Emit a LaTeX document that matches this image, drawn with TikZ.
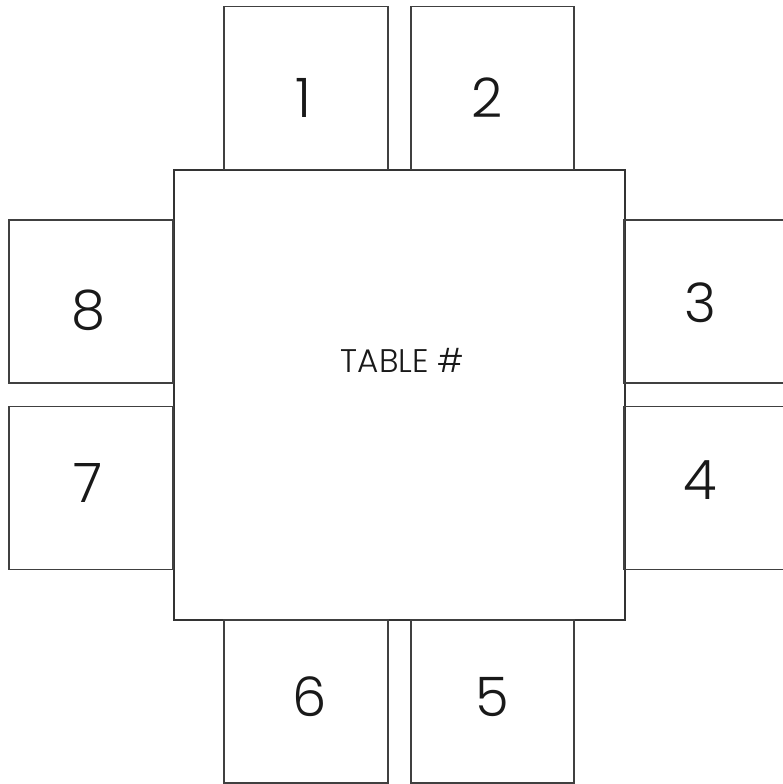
\documentclass[tikz,border=0pt]{standalone}
\usepackage{fontspec}
\setmainfont{Poppins Light}
\begin{document}
\begin{tikzpicture}[line width=0.5pt,
          seat/.style={draw=black!75, minimum width=1.634cm, minimum height=1.63cm, inner sep=0pt, outer sep=0pt},
          tbl/.style={draw=black!80, minimum width=4.51cm, minimum height=4.5cm, inner sep=0pt, outer sep=0pt},
          num/.style={text=black!90, font=\fontsize{15.5}{18}\selectfont, inner sep=0pt},
          tname/.style={text=black!90, font=\fontsize{9.3}{11}\selectfont, inner sep=0pt}]
        \useasboundingbox (0,0) rectangle (7.83,-7.84);
        \node[tbl] (table) at (3.993,-3.95) {};
        \node[seat] (s1) at (3.06,-0.88) {};
        \node[seat] (s2) at (4.925,-0.88) {};
        \node[seat] (s3) at (7.06,-3.015) {};
        \node[seat] (s4) at (7.06,-4.88) {};
        \node[seat] (s5) at (4.925,-7.013) {};
        \node[seat] (s6) at (3.06,-7.013) {};
        \node[seat] (s7) at (0.91,-4.88) {};
        \node[seat] (s8) at (0.91,-3.015) {};
        \node[tname] (tlabel) at (4.025,-3.6) {TABLE \#};
        \node[num] (n1) at (3.03,-0.98) {1};
        \node[num] (n2) at (4.87,-0.98) {2};
        \node[num] (n3) at (7.0,-3.03) {3};
        \node[num] (n4) at (7.0,-4.8) {4};
        \node[num] (n5) at (4.92,-6.97) {5};
        \node[num] (n6) at (3.1,-6.97) {6};
        \node[num] (n7) at (0.88,-4.83) {7};
        \node[num] (n8) at (0.88,-3.1) {8};
      \end{tikzpicture}
\end{document}
